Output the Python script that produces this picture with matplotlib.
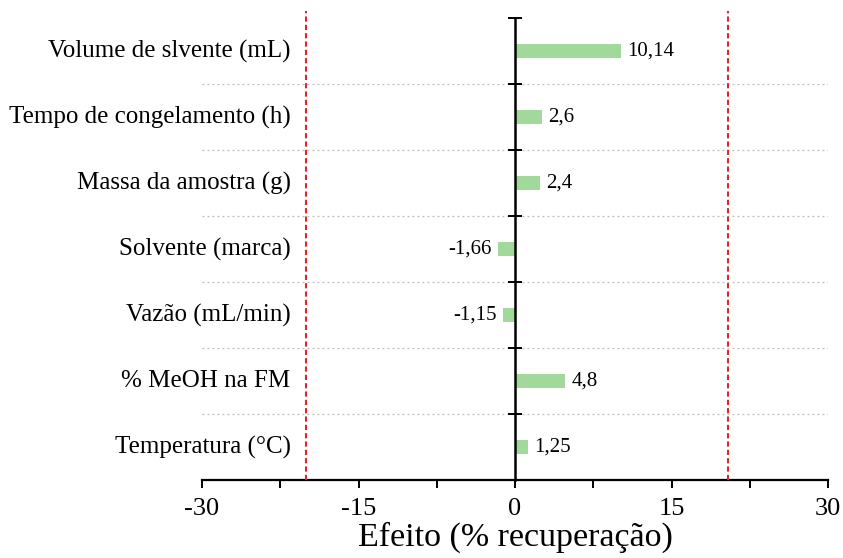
import numpy as np
import matplotlib.pyplot as plt
from matplotlib.ticker import FixedLocator, MultipleLocator, NullFormatter

plt.rcParams['font.family'] = ['Liberation Serif', 'DejaVu Serif']

# --- DATA ---
factors = [
    'Volume de slvente (mL)',
    'Tempo de congelamento (h)',
    'Massa da amostra (g)',
    'Solvente (marca)',
    'Vazão (mL/min)',
    '% MeOH na FM',
    'Temperatura (°C)',
]
effects = [10.14, 2.6, 2.4, -1.66, -1.15, 4.8, 1.25]
effect_labels = ['10,14', '2,6', '2,4', '-1,66', '-1,15', '4,8', '1,25']
limit_lines = [-20.0, 20.45]
x_ticks = [-30, -15, 0, 15, 30]

fig = plt.figure(figsize=(8.43, 5.58), dpi=100)
ax = fig.add_axes([202 / 843, 78 / 558, 626 / 843, 462 / 558])

n = len(factors)
ypos = np.arange(n)[::-1]  # first factor at the top

ax.barh(ypos, effects, height=0.21, color='#a1d99b', zorder=2)

# value labels next to each bar
for y, v, lab in zip(ypos, effects, effect_labels):
    if v >= 0:
        ax.text(v + 0.6, y, lab, ha='left', va='center', fontsize=15)
    else:
        ax.text(v - 0.6, y, lab, ha='right', va='center', fontsize=15)

# factor names, right-aligned just left of the first limit line
for y, name in zip(ypos, factors):
    ax.text(-21.5, y, name, ha='right', va='center', fontsize=18)

# dotted separators between factors
ax.hlines(np.arange(n - 1) + 0.5, -30, 30, colors='#bbbbbb',
          linestyles=(0, (1.5, 2.5)), linewidth=0.9, zorder=1)

# significance limits
for xl in limit_lines:
    ax.plot([xl, xl], [-0.5, n - 0.5 + 0.1], color='#e0262a', lw=1.5,
            linestyle=(0, (2.5, 1.5)), clip_on=False, zorder=3)

ax.set_xlim(-30, 30)
ax.set_ylim(-0.5, n - 0.5)

for s in ['top', 'right']:
    ax.spines[s].set_visible(False)
ax.spines['left'].set_position(('data', 0))
ax.spines['left'].set_linewidth(1.8)
ax.spines['left'].set_zorder(4)
ax.spines['bottom'].set_linewidth(1.6)

ax.xaxis.set_major_locator(FixedLocator(x_ticks))
ax.xaxis.set_minor_locator(MultipleLocator(7.5))
ax.set_xticklabels([str(t) for t in x_ticks], fontsize=19)
ax.tick_params(axis='x', which='both', direction='out', length=6, width=1.4, pad=7)

ax.yaxis.set_major_locator(FixedLocator(np.arange(n + 1) - 0.5))
ax.yaxis.set_major_formatter(NullFormatter())
ax.tick_params(axis='y', which='major', direction='inout', length=10, width=1.4)

ax.set_xlabel('Efeito (% recuperação)', fontsize=24.5, labelpad=1)

fig.savefig('out.png', dpi=100)
